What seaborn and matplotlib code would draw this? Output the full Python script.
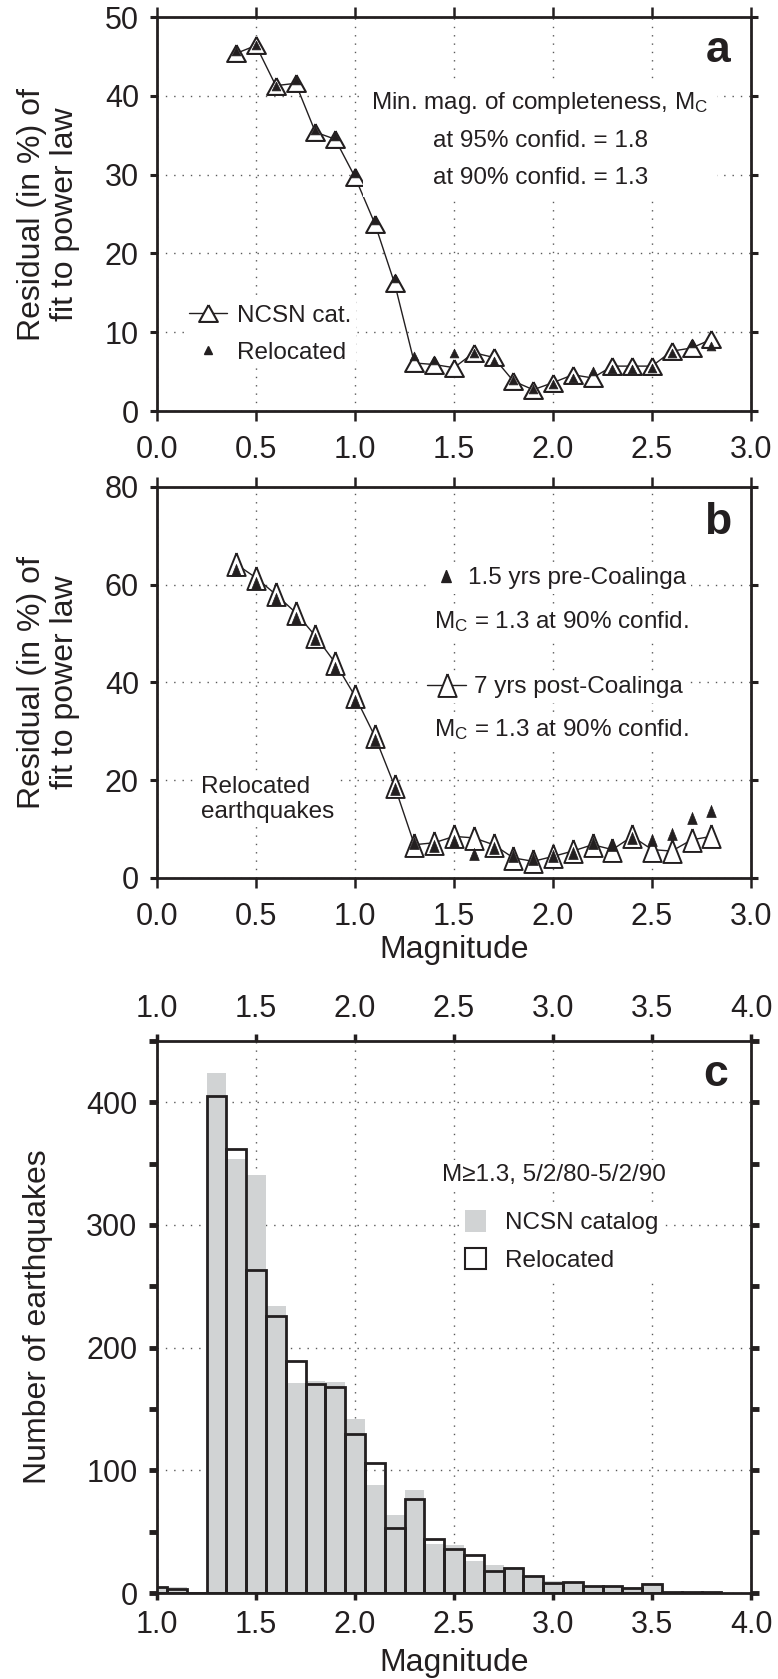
import numpy as np
import pandas as pd
import seaborn as sns
import matplotlib.pyplot as plt
from matplotlib.lines import Line2D
from matplotlib.patches import Patch
from matplotlib.ticker import MultipleLocator

# ---- data ----
mags = [0.4, 0.5, 0.6, 0.7, 0.8, 0.9, 1.0, 1.1, 1.2, 1.3, 1.4, 1.5, 1.6,
        1.7, 1.8, 1.9, 2.0, 2.1, 2.2, 2.3, 2.4, 2.5, 2.6, 2.7, 2.8]

# panel a: NCSN catalog vs relocated
ncsn_a = [45.4, 46.4, 41.3, 41.6, 35.4, 34.5, 29.7, 23.8, 16.2, 6.1, 5.9, 5.5, 7.4,
          6.8, 3.8, 2.7, 3.6, 4.6, 4.2, 5.7, 5.7, 5.7, 7.6, 8.0, 9.1]
reloc_a = [45.7, 46.4, 41.3, 42.0, 35.7, 34.9, 30.2, 24.3, 16.9, 7.0, 6.5, 7.4, 7.4,
           6.3, 4.0, 2.8, 3.4, 4.2, 5.1, 5.3, 5.3, 5.5, 7.4, 8.6, 8.2]

# panel b: post- vs pre-Coalinga (relocated)
post_b = [64.2, 61.4, 58.0, 54.3, 49.5, 44.0, 37.2, 29.0, 18.8, 6.8, 7.2, 8.5, 8.2,
          6.8, 4.1, 3.4, 4.4, 5.5, 6.8, 5.8, 8.5, 5.8, 5.5, 7.8, 8.5]
pre_b = [63.1, 60.4, 57.1, 53.2, 48.8, 43.0, 36.2, 28.3, 18.1, 7.2, 6.5, 7.5, 4.8,
         6.1, 4.4, 3.8, 4.4, 5.1, 7.2, 6.8, 8.2, 7.8, 8.9, 12.3, 13.7]

# panel c: histogram, bins of 0.1 centred on these magnitudes
hist_bins = [1.0, 1.1, 1.2, 1.3, 1.4, 1.5, 1.6, 1.7, 1.8, 1.9, 2.0, 2.1, 2.2, 2.3,
             2.4, 2.5, 2.6, 2.7, 2.8, 2.9, 3.0, 3.1, 3.2, 3.3, 3.4, 3.5, 3.6, 3.7, 3.8]
ncsn_counts = [5, 5, 0, 424, 354, 341, 234, 171, 173, 172, 142, 88, 64, 84,
               40, 39, 26, 23, 21, 14, 10, 9, 6, 6, 5, 8, 1, 1, 1]
reloc_counts = [5, 3, 0, 405, 362, 263, 226, 189, 170, 168, 130, 106, 53, 77,
                44, 36, 31, 18, 20, 14, 8, 9, 6, 6, 4, 7, 1, 1, 1]

k = '#231f20'
gray = '#d1d3d4'

sns.set_theme(style='ticks')
plt.rcParams['font.family'] = ['Liberation Sans', 'DejaVu Sans']
plt.rcParams['mathtext.default'] = 'regular'
plt.rcParams['text.color'] = k
plt.rcParams['axes.labelcolor'] = k
plt.rcParams['xtick.color'] = k
plt.rcParams['ytick.color'] = k

nfont = {'family': 'Liberation Sans', 'size': 17.5}
tick_fs = 22
label_fs = 23

tri_flat = np.array([[0, 0.9], [-1, -0.9], [1, -0.9], [0, 0.9]])
tri_tall = np.array([[0, 1], [-0.8, -1], [0.8, -1], [0, 1]])

fig = plt.figure(figsize=(7.78, 16.79), dpi=100)
L, W = 0.2018, 0.7635
ax_a = fig.add_axes([L, 0.7552, W, 0.2346])
ax_b = fig.add_axes([L, 0.4771, W, 0.2329])
ax_c = fig.add_axes([L, 0.0512, W, 0.3288])


def style_axes(ax):
    for s in ax.spines.values():
        s.set_visible(True)
        s.set_linewidth(2)
        s.set_color(k)
    ax.set_axisbelow(True)
    ax.grid(True, which='major', linestyle=(0, (1, 5)), color='0.35', linewidth=1)
    ax.tick_params(axis='x', which='both', direction='out', labelsize=tick_fs,
                   top=True, width=1.8, length=7, pad=10)
    ax.tick_params(axis='y', which='both', direction='out', labelsize=tick_fs,
                   right=True, width=2.2, length=5, pad=8)


# ---- panel a ----
sns.lineplot(x=mags, y=ncsn_a, ax=ax_a, color=k, lw=1, marker=tri_flat, markersize=13.5,
             markerfacecolor='white', markeredgecolor=k, markeredgewidth=1.5,
             estimator=None, errorbar=None, sort=False, zorder=3)
sns.scatterplot(x=mags, y=reloc_a, ax=ax_a, marker='^', s=40, color=k,
                edgecolor=k, linewidth=0.5, zorder=4)
ax_a.set_xlim(0, 3)
ax_a.set_ylim(0, 50)
ax_a.set_xticks(np.arange(0, 3.01, 0.5))
ax_a.set_yticks(range(0, 51, 10))
style_axes(ax_a)
ax_a.set_xticklabels(['0.0', '0.5', '1.0', '1.5', '2.0', '2.5', '3.0'])
ax_a.set_xlabel('')
ax_a.set_ylabel('Residual (in %) of\nfit to power law', fontsize=label_fs, linespacing=1.1)
ax_a.yaxis.set_label_coords(-0.13, 0.5)

ax_a.text(0.645, 0.69,
          'Min. mag. of completeness, M$_C$\nat 95% confid. = 1.8\nat 90% confid. = 1.3',
          transform=ax_a.transAxes, ha='center', va='center', multialignment='center',
          linespacing=1.85, fontdict=nfont,
          bbox=dict(facecolor='white', edgecolor='none', pad=6))
ax_a.text(0.944, 0.915, 'a', transform=ax_a.transAxes, ha='center', va='center',
          fontsize=32, fontweight='bold')

h_open = Line2D([], [], color=k, lw=1, marker=tri_flat, markersize=13.5,
                markerfacecolor='white', markeredgecolor=k, markeredgewidth=1.5)
h_fill = Line2D([], [], color=k, lw=0, marker='^', markersize=6)
ax_a.legend([h_open, h_fill], ['NCSN cat.', 'Relocated'], loc='center left',
            bbox_to_anchor=(0.045, 0.195), frameon=True, framealpha=1, edgecolor='none',
            fancybox=False, handlelength=1.6, handletextpad=0.4, labelspacing=0.6,
            borderpad=0.2, borderaxespad=0, prop=nfont)

# ---- panel b ----
sns.lineplot(x=mags, y=post_b, ax=ax_b, color=k, lw=1, marker=tri_tall, markersize=16.5,
             markerfacecolor='white', markeredgecolor=k, markeredgewidth=1.4,
             estimator=None, errorbar=None, sort=False, zorder=3)
sns.scatterplot(x=mags, y=pre_b, ax=ax_b, marker=tri_tall, s=74, color=k,
                edgecolor=k, linewidth=0.5, zorder=4)
ax_b.set_xlim(0, 3)
ax_b.set_ylim(0, 80)
ax_b.set_xticks(np.arange(0, 3.01, 0.5))
ax_b.set_yticks(range(0, 81, 20))
style_axes(ax_b)
ax_b.set_xticklabels(['0.0', '0.5', '1.0', '1.5', '2.0', '2.5', '3.0'])
ax_b.set_xlabel('Magnitude', fontsize=label_fs)
ax_b.xaxis.set_label_coords(0.5, -0.145)
ax_b.set_ylabel('Residual (in %) of\nfit to power law', fontsize=label_fs, linespacing=1.1)
ax_b.yaxis.set_label_coords(-0.13, 0.5)

hb_fill = Line2D([], [], color=k, lw=0, marker=tri_tall, markersize=8.6)
hb_open = Line2D([], [], color=k, lw=1, marker=tri_tall, markersize=16.5,
                 markerfacecolor='white', markeredgecolor=k, markeredgewidth=1.4)
leg1 = ax_b.legend([hb_fill], ['1.5 yrs pre-Coalinga'], loc='center left',
                   bbox_to_anchor=(0.458, 0.767), frameon=True, framealpha=1,
                   edgecolor='none', fancybox=False, handlelength=1.0, handletextpad=0.4,
                   borderpad=0.2, borderaxespad=0, prop=nfont)
ax_b.add_artist(leg1)
ax_b.legend([hb_open], ['7 yrs post-Coalinga'], loc='center left',
            bbox_to_anchor=(0.447, 0.488), frameon=True, framealpha=1,
            edgecolor='none', fancybox=False, handlelength=1.6, handletextpad=0.3,
            borderpad=0.2, borderaxespad=0, prop=nfont)
for yy in (0.655, 0.379):
    ax_b.text(0.681, yy, 'M$_C$ = 1.3 at 90% confid.', transform=ax_b.transAxes,
              ha='center', va='center', fontdict=nfont,
              bbox=dict(facecolor='white', edgecolor='none', pad=3))
ax_b.text(0.074, 0.2, 'Relocated\nearthquakes', transform=ax_b.transAxes,
          ha='left', va='center', linespacing=1.15, fontdict=nfont,
          bbox=dict(facecolor='white', edgecolor='none', pad=3))
ax_b.text(0.944, 0.91, 'b', transform=ax_b.transAxes, ha='center', va='center',
          fontsize=32, fontweight='bold')

# ---- panel c ----
sns.histplot(x=hist_bins, weights=ncsn_counts, binwidth=0.1, binrange=(0.95, 3.85),
             ax=ax_c, color=gray, alpha=1, linewidth=0, edgecolor='none', zorder=2)
sns.histplot(x=hist_bins, weights=reloc_counts, binwidth=0.1, binrange=(0.95, 3.85),
             ax=ax_c, fill=False, color=k, linewidth=2, zorder=3)
ax_c.set_xlim(1, 4)
ax_c.set_ylim(0, 450)
ax_c.set_xticks(np.arange(1, 4.01, 0.5))
ax_c.set_yticks(range(0, 401, 100))
ax_c.yaxis.set_minor_locator(MultipleLocator(50))
style_axes(ax_c)
ax_c.tick_params(axis='y', which='both', width=3.5, length=6)
ax_c.tick_params(axis='x', labeltop=True, width=2.5, length=5, pad=7)
ax_c.set_xticklabels(['1.0', '1.5', '2.0', '2.5', '3.0', '3.5', '4.0'])
ax_c.set_xlabel('Magnitude', fontsize=label_fs)
ax_c.xaxis.set_label_coords(0.5, -0.1)
ax_c.set_ylabel('Number of earthquakes', fontsize=label_fs)
ax_c.yaxis.set_label_coords(-0.175, 0.5)

ax_c.text(0.668, 0.757, 'M\u22651.3, 5/2/80-5/2/90', transform=ax_c.transAxes,
          ha='center', va='center', fontdict=nfont,
          bbox=dict(facecolor='white', edgecolor='none', pad=3))
ax_c.legend([Patch(facecolor=gray, edgecolor='none'),
             Patch(facecolor='white', edgecolor=k, linewidth=1.5)],
            ['NCSN catalog', 'Relocated'], loc='center left',
            bbox_to_anchor=(0.51, 0.638), frameon=True, framealpha=1, edgecolor='none',
            fancybox=False, handlelength=0.86, handleheight=1.0, handletextpad=0.8,
            labelspacing=0.55, borderpad=0.2, borderaxespad=0, prop=nfont)
ax_c.text(0.94, 0.94, 'c', transform=ax_c.transAxes, ha='center', va='center',
          fontsize=32, fontweight='bold')

fig.savefig('out.png', dpi=100)
